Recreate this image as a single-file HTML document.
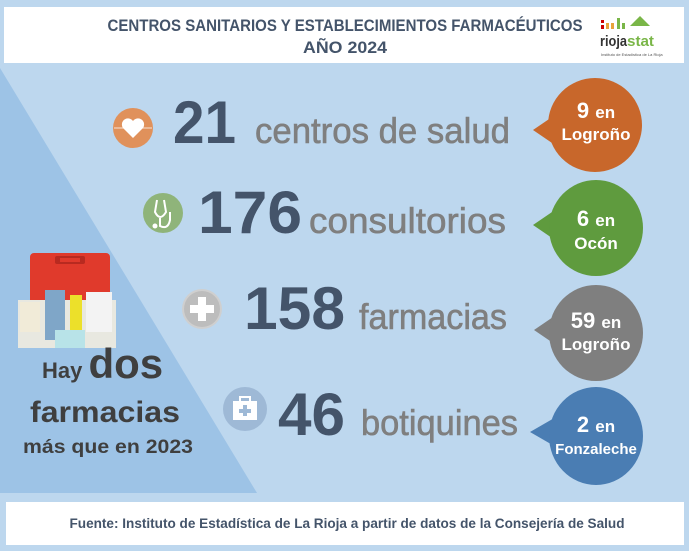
<!DOCTYPE html>
<html><head><meta charset="utf-8"><style>
html,body{margin:0;padding:0;background:#bdd7ee;}
svg{display:block;font-family:"Liberation Sans",Arial,sans-serif;}
</style></head><body>
<svg width="689" height="551" viewBox="0 0 689 551" xmlns="http://www.w3.org/2000/svg">
<rect width="689" height="551" fill="#bdd7ee"/>
<polygon points="0,68 257,493 0,493" fill="#9dc3e6"/>
<!-- header -->
<rect x="4" y="7" width="680" height="56" fill="#ffffff"/>
<text x="345" y="31" text-anchor="middle" font-size="17" font-weight="bold" fill="#44546a" textLength="475" lengthAdjust="spacingAndGlyphs">CENTROS SANITARIOS Y ESTABLECIMIENTOS FARMACÉUTICOS</text>
<text x="345" y="53" text-anchor="middle" font-size="17" font-weight="bold" fill="#44546a" textLength="84" lengthAdjust="spacingAndGlyphs">AÑO 2024</text>
<!-- logo -->
<rect x="601" y="20" width="3" height="3" fill="#c00"/><rect x="601" y="25" width="3" height="4" fill="#c00"/>
<rect x="606" y="23" width="3" height="6" fill="#e8a33b"/><rect x="611" y="23" width="3" height="6" fill="#e8a33b"/>
<rect x="617" y="18" width="3" height="11" fill="#7ab648"/><rect x="622" y="23" width="3" height="6" fill="#7ab648"/>
<path d="M630 26 L640 16 L650 26 Z" fill="#7ab648"/>
<text x="600" y="46" font-size="15" font-weight="bold" fill="#333" textLength="27" lengthAdjust="spacingAndGlyphs">rioja</text>
<text x="627" y="46" font-size="15" font-weight="bold" fill="#7ab648" textLength="27" lengthAdjust="spacingAndGlyphs">stat</text>
<text x="601" y="56" font-size="4" fill="#555">Instituto de Estadística de La Rioja</text>
<!-- footer -->
<rect x="6" y="502" width="678" height="43" fill="#ffffff"/>
<text x="347" y="528" text-anchor="middle" font-size="14" font-weight="bold" fill="#44546a" textLength="555" lengthAdjust="spacingAndGlyphs">Fuente: Instituto de Estadística de La Rioja a partir de datos de la Consejería de Salud</text>

<!-- row 1 -->
<circle cx="133" cy="128" r="20" fill="#e0915b"/>
<path d="M133 138 L123 128 A5 5 0 0 1 133 121 A5 5 0 0 1 143 128 Z" fill="#fff"/>
<line x1="114" y1="128" x2="152" y2="128" stroke="#fff" stroke-width="0.8"/>
<text x="173" y="143" font-size="60" font-weight="bold" fill="#44546a" textLength="63" lengthAdjust="spacingAndGlyphs">21</text>
<text x="255" y="143" font-size="36" fill="#7f7f7f" stroke="#7f7f7f" stroke-width="0.6" textLength="255" lengthAdjust="spacingAndGlyphs">centros de salud</text>
<!-- row 2 -->
<circle cx="163" cy="213" r="20" fill="#8fb47a"/>
<path d="M157 200 L155 212 Q160 222 166 212 L164 200 M160 218 L160 226 Q168 230 170 220 L170 212" fill="none" stroke="#fff" stroke-width="2"/>
<circle cx="155" cy="226" r="2.5" fill="#fff"/>
<text x="198" y="233" font-size="60" font-weight="bold" fill="#44546a" textLength="104" lengthAdjust="spacingAndGlyphs">176</text>
<text x="309" y="233" font-size="36" fill="#7f7f7f" stroke="#7f7f7f" stroke-width="0.6" textLength="197" lengthAdjust="spacingAndGlyphs">consultorios</text>
<!-- row 3 -->
<circle cx="202" cy="309" r="20" fill="#cfcfcf"/>
<circle cx="202" cy="309" r="18" fill="#bdbdbd"/>
<rect x="198" y="297" width="8" height="24" fill="#fff"/><rect x="190" y="305" width="24" height="8" fill="#fff"/>
<text x="244" y="329" font-size="60" font-weight="bold" fill="#44546a" textLength="101" lengthAdjust="spacingAndGlyphs">158</text>
<text x="359" y="329" font-size="36" fill="#7f7f7f" stroke="#7f7f7f" stroke-width="0.6" textLength="148" lengthAdjust="spacingAndGlyphs">farmacias</text>
<!-- row 4 -->
<circle cx="245" cy="409" r="22" fill="#9eb9d6"/>
<rect x="233" y="401" width="24" height="19" fill="#fff"/>
<rect x="240" y="397" width="10" height="5" fill="none" stroke="#fff" stroke-width="2"/>
<rect x="243" y="405" width="4" height="11" fill="#9eb9d6"/><rect x="239" y="409" width="12" height="4" fill="#9eb9d6"/>
<text x="278" y="435" font-size="60" font-weight="bold" fill="#44546a" textLength="67" lengthAdjust="spacingAndGlyphs">46</text>
<text x="361" y="435" font-size="36" fill="#7f7f7f" stroke="#7f7f7f" stroke-width="0.6" textLength="157" lengthAdjust="spacingAndGlyphs">botiquines</text>

<!-- bubbles -->
<g font-weight="bold" fill="#fff" text-anchor="middle">
<path d="M533 130 L555 115 L555 145 Z" fill="#c8672b"/>
<ellipse cx="595" cy="125" rx="47" ry="47" fill="#c8672b"/>
<text x="596" y="118" font-size="22">9 <tspan font-size="17">en</tspan></text>
<text x="596" y="140" font-size="17">Logroño</text>

<path d="M533 225 L555 210 L555 240 Z" fill="#5f9b3e"/>
<ellipse cx="596" cy="228" rx="47" ry="48" fill="#5f9b3e"/>
<text x="596" y="226" font-size="22">6 <tspan font-size="17">en</tspan></text>
<text x="596" y="249" font-size="17">Ocón</text>

<path d="M534 330 L556 315 L556 345 Z" fill="#7f7f7f"/>
<ellipse cx="596" cy="333" rx="47" ry="48" fill="#7f7f7f"/>
<text x="596" y="328" font-size="22">59 <tspan font-size="17">en</tspan></text>
<text x="596" y="350" font-size="17">Logroño</text>

<path d="M530 432 L556 417 L556 447 Z" fill="#4a7db3"/>
<ellipse cx="596" cy="436" rx="47" ry="49" fill="#4a7db3"/>
<text x="596" y="432" font-size="22">2 <tspan font-size="17">en</tspan></text>
<text x="596" y="444" font-size="15" dy="10">Fonzaleche</text>
</g>

<!-- first aid kit -->
<rect x="30" y="253" width="80" height="60" rx="4" fill="#e03a2c"/>
<rect x="55" y="256" width="30" height="8" rx="2" fill="#b82a20"/>
<rect x="60" y="258" width="20" height="4" fill="#e03a2c"/>
<rect x="18" y="300" width="98" height="48" fill="#e8e8e0"/>
<rect x="20" y="302" width="20" height="30" fill="#f1ebd8"/>
<rect x="45" y="290" width="20" height="50" fill="#7fa6c8"/>
<rect x="70" y="295" width="12" height="40" fill="#ece02a"/>
<rect x="86" y="292" width="26" height="40" fill="#f3f3f3"/>
<rect x="55" y="330" width="30" height="18" fill="#b8e3e8"/>

<!-- left text -->
<g font-weight="bold" fill="#3f3f3f">
<text x="42" y="378"><tspan font-size="22">Hay </tspan><tspan font-size="42">dos</tspan></text>
<text x="30" y="422" font-size="30" textLength="150" lengthAdjust="spacingAndGlyphs">farmacias</text>
<text x="23" y="453" font-size="19" textLength="170" lengthAdjust="spacingAndGlyphs">más que en 2023</text>
</g>
</svg>
</body></html>
